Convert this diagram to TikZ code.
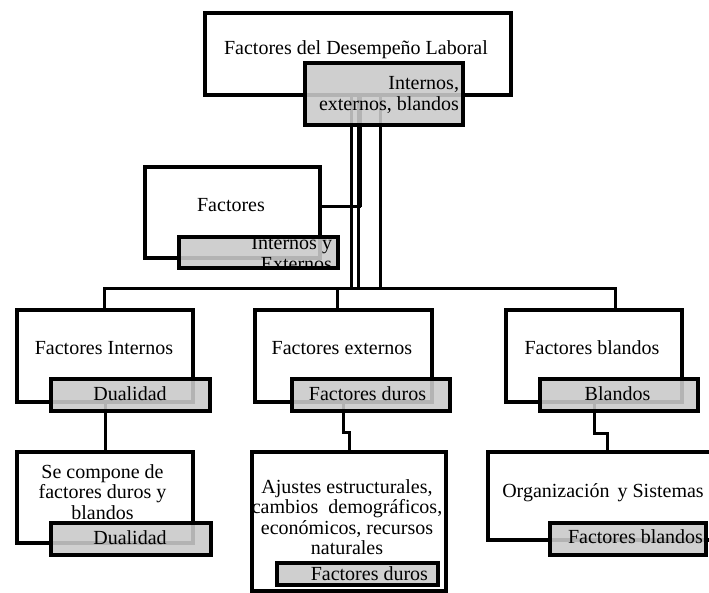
\documentclass[tikz,border=0pt]{standalone}
\usepackage{fontspec}
\setmainfont{Liberation Serif}
\definecolor{boxgray}{RGB}{202,202,202}
\begin{document}
\begin{tikzpicture}[x=1pt,y=-1pt,
  every node/.style={font=\fontsize{20}{20.5}\selectfont, inner sep=0pt, outer sep=0pt},
  wbox/.style={rectangle, draw=black, line width=3.8pt, fill=white},
  gbox/.style={rectangle, draw=black, draw opacity=1, line width=3.8pt, fill=boxgray, fill opacity=0.89, text opacity=1},
  conn/.style={draw=black, line width=3pt},
  lbl/.style={anchor=base}]
\useasboundingbox (0,0) rectangle (709,593);
\clip (0,0) rectangle (709,593);

% white boxes
\node[wbox, minimum width=306pt, minimum height=82pt] (top) at (358,54) {};
\node[wbox, minimum width=175pt, minimum height=91pt] (fac) at (232.5,212.5) {};
\node[wbox, minimum width=176pt, minimum height=92pt] (int) at (105,356) {};
\node[wbox, minimum width=177pt, minimum height=92pt] (ext) at (343.5,356) {};
\node[wbox, minimum width=176pt, minimum height=92pt] (bla) at (594,356) {};
\node[wbox, minimum width=176pt, minimum height=91pt] (se) at (105,497.5) {};
\node[wbox, minimum width=194pt, minimum height=139pt] (aju) at (349,521.5) {};
\node[wbox, minimum width=227pt, minimum height=88pt] (org) at (601.5,496) {};

% bus coordinates
\coordinate (busL) at (104,289);
\coordinate (busM) at (337,289);
\coordinate (busR) at (615,289);

% connectors
\draw[conn] ([xshift=-6.5pt]top.south) -- ([xshift=-6.5pt]top.south |- busL);
\draw[conn] (top.south) -- (top.south |- busL);
\draw[conn, line width=5pt] ([xshift=1.5pt]top.south) -- ([xshift=1.5pt,yshift=5.5pt]top.south |- fac.east);
\draw[conn] ([xshift=3pt,yshift=5.5pt]top.south |- fac.east) -- ([yshift=5.5pt]fac.east);
\draw[conn] ([xshift=22.5pt]top.south) -- ([xshift=22.5pt]top.south |- busL);
\draw[conn] (busL |- int.north) -- (busL) -- (busR) -- (busR |- bla.north);
\draw[conn] (busM) -- (busM |- ext.north);
\draw[conn] (int.south) -- (se.north);
\draw[conn] (ext.south) -- ([yshift=-30pt]ext.south) -| (aju.north);
\draw[conn] (bla.south) -- ([yshift=-31pt]bla.south) -| ([xshift=5.5pt]org.north);

% gray boxes
\node[gbox, minimum width=158pt, minimum height=62pt] (topg) at (384,94) {};
\node[gbox, minimum width=159pt, minimum height=31pt] (facg) at (258.5,252.5) {};
\node[gbox, minimum width=159pt, minimum height=32pt] (intg) at (130.5,395) {};
\node[gbox, minimum width=158pt, minimum height=32pt] (extg) at (371,395) {};
\node[gbox, minimum width=158pt, minimum height=32pt] (blag) at (619,395) {};
\node[gbox, minimum width=160pt, minimum height=32pt] (seg) at (131,539) {};
\node[gbox, minimum width=161pt, minimum height=22pt] (ajug) at (357.5,574) {};
\node[gbox, minimum width=156pt, minimum height=32pt] (orgg) at (628,539) {};

% texts of white boxes
\node[lbl] (ttop) at (356,55) {Factores del Desempeño Laboral};
\node[lbl] (tfac) at (231,212) {Factores};
\node[lbl] (tint) at (104,355) {Factores Internos};
\node[lbl] (text) at (342,355) {Factores externos};
\node[lbl] (tbla) at (592,355) {Factores blandos};
\node[lbl] (tse) at (102.5,478) {\begin{tabular}[t]{@{}c@{}}Se compone de\\factores duros y\\blandos\end{tabular}};
\node[lbl] (taju) at (347,493) {\begin{tabular}[t]{@{}c@{}}Ajustes estructurales,\\cambios\hspace{0.25em} demográficos,\\económicos, recursos\\naturales\end{tabular}};
\node[lbl] (torg) at (603,497) {Organización\hspace{0.15em} y Sistemas};

% texts of gray boxes
\node[anchor=base east] (ttopg) at (459,90) {\begin{tabular}[t]{@{}r@{}}Internos,\\externos, blandos\end{tabular}};
\begin{scope}
  \clip (179,233) rectangle (338,266);
  \node[anchor=base east] (tfacg) at (332,250) {\begin{tabular}[t]{@{}r@{}}Internos y\\Externos\end{tabular}};
\end{scope}
\node[lbl] (tintg) at (130,400) {Dualidad};
\node[lbl] (textg) at (367.5,400) {Factores duros};
\node[lbl] (tblag) at (617.5,400) {Blandos};
\node[lbl] (tseg) at (130,544) {Dualidad};
\node[anchor=base east] (tajug) at (428,580) {Factores duros};
\node[anchor=base east] (torgg) at (703,543) {Factores blandos};
\end{tikzpicture}
\end{document}
